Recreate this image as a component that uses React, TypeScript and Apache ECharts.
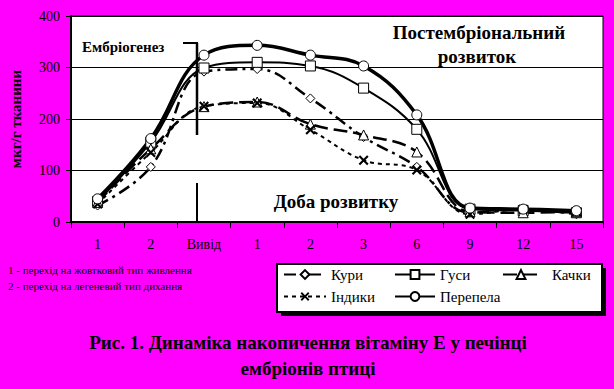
import React, { useEffect, useRef } from "react";
import * as echarts from "echarts";

const categories = ["1", "2", "Вивід", "1", "2", "3", "6", "9", "12", "15"];
const kuryValues = [32, 107, 292, 297, 240, 165, 107, 18, 25, 15];
const gusyValues = [40, 155, 299, 310, 303, 260, 180, 25, 22, 18];
const kachkyValues = [38, 142, 224, 233, 190, 169, 136, 20, 18, 20];
const indykyValues = [35, 135, 225, 231, 179, 120, 101, 15, 25, 20];
const perepelaValues = [45, 162, 324, 343, 324, 303, 208, 27, 25, 22];
const yTicks = { min: 0, max: 400, interval: 100 };

const SERIF = "Liberation Serif";
const X_SYMBOL =
  "path://M0,1.5L1.5,0L5,3.5L8.5,0L10,1.5L6.5,5L10,8.5L8.5,10L5,6.5L1.5,10L0,8.5L3.5,5Z";

function txt(x: number, y: number, text: string, size: number, bold: boolean, align: string) {
  return {
    type: "text",
    x,
    y,
    z: 10,
    style: {
      text,
      fontFamily: SERIF,
      fontSize: size,
      fontWeight: bold ? "bold" : "normal",
      fill: "#000",
      align,
      verticalAlign: "middle",
    },
  };
}

function legendCol(left: number, names: string[], itemWidth: number, textPad: number) {
  return {
    left,
    top: 267,
    orient: "vertical",
    itemWidth,
    itemHeight: 11,
    itemGap: 7,
    padding: 0,
    data: names,
    textStyle: { fontFamily: SERIF, fontSize: 15, color: "#000", padding: [0, 0, 0, textPad] },
  };
}

export default function App() {
  const ref = useRef<HTMLDivElement>(null);
  useEffect(() => {
    if (!ref.current) return;
    const chart = echarts.init(ref.current, null, { renderer: "svg" });
    const hollow = { color: "#fff", borderColor: "#000", borderWidth: 1 };
    chart.setOption({
      animation: false,
      backgroundColor: "#ff00ff",
      grid: {
        left: 68,
        top: 16,
        width: 535,
        height: 206,
        show: true,
        backgroundColor: "#fff",
        borderColor: "#000",
        borderWidth: 1,
      },
      xAxis: {
        type: "category",
        data: categories,
        boundaryGap: true,
        axisLine: { lineStyle: { color: "#000", width: 2 } },
        axisTick: { show: true, inside: false, length: 6, interval: 0, lineStyle: { color: "#000", width: 1 } },
        axisLabel: { interval: 0, margin: 15, fontFamily: SERIF, fontSize: 14, color: "#000" },
      },
      yAxis: {
        type: "value",
        min: yTicks.min,
        max: yTicks.max,
        interval: yTicks.interval,
        name: "мкг/г тканини",
        nameLocation: "middle",
        nameRotate: 90,
        nameGap: 48,
        nameTextStyle: { fontFamily: SERIF, fontSize: 15, fontWeight: "bold", color: "#000" },
        axisLine: { show: true, lineStyle: { color: "#000", width: 2 } },
        axisTick: { show: true, inside: false, length: 5, lineStyle: { color: "#000" } },
        axisLabel: { margin: 11, fontFamily: SERIF, fontSize: 14, color: "#000" },
        splitLine: { show: true, lineStyle: { color: "#000", width: 1 } },
      },
      legend: [
        legendCol(283, ["Кури", "Індики"], 42, 0),
        legendCol(394, ["Гуси", "Перепела"], 40, 0),
        legendCol(502, ["Качки"], 36, 8),
      ],
      graphic: [
        { type: "rect", shape: { x: 281, y: 268, width: 325, height: 48 }, style: { fill: "#000" }, z: 0 },
        { type: "rect", shape: { x: 277, y: 264, width: 325, height: 48 }, style: { fill: "#fff", stroke: "#000", lineWidth: 2 }, z: 0 },
        { type: "line", shape: { x1: 197, y1: 43, x2: 197, y2: 135 }, style: { stroke: "#000", lineWidth: 2.5 }, z: 10 },
        { type: "line", shape: { x1: 197, y1: 183, x2: 197, y2: 222 }, style: { stroke: "#000", lineWidth: 2 }, z: 10 },
        { type: "line", shape: { x1: 183, y1: 43, x2: 198, y2: 43 }, style: { stroke: "#000", lineWidth: 2 }, z: 10 },
        txt(82, 47, "Ембріогенез", 15, true, "left"),
        txt(479, 32, "Постембріональний", 19, true, "center"),
        txt(477, 56, "розвиток", 19, true, "center"),
        txt(336, 201, "Доба розвитку", 19, true, "center"),
        txt(8, 270, "1 - перехід на жовтковий тип живлення", 11, false, "left"),
        txt(8, 286, "2 - перехід на легеневий тип дихання", 11, false, "left"),
        txt(308, 342, "Рис. 1. Динаміка накопичення вітаміну Е у печінці", 19, true, "center"),
        txt(308, 368, "ембріонів птиці", 19, true, "center"),
      ],
      series: [
        {
          name: "Кури", type: "line", data: kuryValues, smooth: 0.4,
          symbol: "diamond", symbolSize: 9, itemStyle: hollow,
          lineStyle: { color: "#000", width: 2.5, type: [12, 5, 3, 5] },
        },
        {
          name: "Гуси", type: "line", data: gusyValues, smooth: 0.4,
          symbol: "rect", symbolSize: 10, itemStyle: hollow,
          lineStyle: { color: "#000", width: 2 },
        },
        {
          name: "Качки", type: "line", data: kachkyValues, smooth: 0.4,
          symbol: "triangle", symbolSize: 10, itemStyle: hollow,
          lineStyle: { color: "#000", width: 2.5, type: [14, 6] },
        },
        {
          name: "Індики", type: "line", data: indykyValues, smooth: 0.4,
          symbol: X_SYMBOL, symbolSize: 10, itemStyle: { color: "#000" },
          lineStyle: { color: "#000", width: 2, type: [4, 4] },
        },
        {
          name: "Перепела", type: "line", data: perepelaValues, smooth: 0.4,
          symbol: "circle", symbolSize: 10, itemStyle: hollow,
          lineStyle: { color: "#000", width: 3.5 },
        },
      ],
    });
    return () => chart.dispose();
  }, []);
  return (
    <div
      ref={ref}
      style={{ position: "absolute", left: 0, top: 0, width: 614, height: 389, background: "#ff00ff" }}
    />
  );
}
